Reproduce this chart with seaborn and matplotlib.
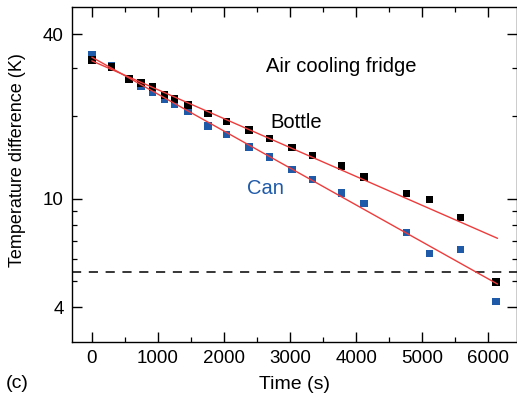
import numpy as np
import pandas as pd
import matplotlib
matplotlib.use("Agg")
import matplotlib.pyplot as plt
from matplotlib.ticker import FixedLocator, FixedFormatter, NullFormatter
import seaborn as sns

# Measured cooling curves (temperature difference vs. time)
time_s = [0, 300, 560, 740, 920, 1100, 1250, 1460, 1760, 2040,
          2380, 2690, 3030, 3340, 3780, 4120, 4760, 5110, 5580, 6120]
bottle_dT = [32.2, 30.4, 27.4, 26.5, 25.6, 24.0, 23.2, 22.0, 20.5, 19.2,
             17.8, 16.6, 15.4, 14.4, 13.2, 12.0, 10.45, 9.93, 8.53, 4.94]
can_dT = [33.6, 30.6, 27.3, 25.9, 24.5, 23.1, 22.15, 20.9, 18.45, 17.2,
          15.45, 14.2, 12.8, 11.75, 10.5, 9.6, 7.5, 6.3, 6.5, 4.2]

# Exponential fits (straight lines on the log axis), given by their end points
fit_time = [0, 6140]
bottle_fit = [32.0, 7.15]
can_fit = [33.0, 4.86]

threshold_dT = 5.4

y_major = [4, 10, 40]
y_major_labels = ["4", "10", "40"]
y_minor = [5, 6, 7, 8, 9, 20, 30]
x_major = [0, 1000, 2000, 3000, 4000, 5000, 6000]
x_minor = [500, 1500, 2500, 3500, 4500, 5500]

BLACK = "#000000"
BLUE = "#1f5aa8"
RED = "#ee3b3b"

sns.set_style("ticks")
plt.rcParams["font.family"] = ["Liberation Sans", "DejaVu Sans"]
plt.rcParams.update({
    "text.color": "black",
    "axes.labelcolor": "black",
    "xtick.color": "black",
    "ytick.color": "black",
    "axes.edgecolor": "black",
})

points = pd.concat([
    pd.DataFrame({"t": time_s, "dT": can_dT, "sample": "Can"}),
    pd.DataFrame({"t": time_s, "dT": bottle_dT, "sample": "Bottle"}),
], ignore_index=True)
fits = pd.concat([
    pd.DataFrame({"t": fit_time, "dT": can_fit, "sample": "Can"}),
    pd.DataFrame({"t": fit_time, "dT": bottle_fit, "sample": "Bottle"}),
], ignore_index=True)

fig = plt.figure(figsize=(5.17, 4.01), dpi=100)
ax = fig.add_axes([72 / 517, 59 / 401, 444.5 / 517, 335 / 401])

sns.scatterplot(data=points, x="t", y="dT", hue="sample",
                palette={"Can": BLUE, "Bottle": BLACK}, marker="s",
                s=30, linewidth=0, legend=False, ax=ax, zorder=2)
sns.lineplot(data=fits, x="t", y="dT", hue="sample",
             palette={"Can": RED, "Bottle": RED}, linewidth=1.0,
             legend=False, ax=ax, zorder=3)
ax.axhline(threshold_dT, color="black", linewidth=1.1, dashes=(6, 5), zorder=1)

ax.set_yscale("log")
ax.set_xlim(-300, 6427)
ax.set_ylim(2.98, 50.4)

ax.yaxis.set_major_locator(FixedLocator(y_major))
ax.yaxis.set_major_formatter(FixedFormatter(y_major_labels))
ax.yaxis.set_minor_locator(FixedLocator(y_minor))
ax.yaxis.set_minor_formatter(NullFormatter())
ax.xaxis.set_major_locator(FixedLocator(x_major))
ax.xaxis.set_minor_locator(FixedLocator(x_minor))

for side in ["top", "right", "bottom", "left"]:
    ax.spines[side].set_visible(True)
    ax.spines[side].set_linewidth(1.0)
    ax.spines[side].set_color("black")

ax.tick_params(which="both", direction="in", top=True, right=True,
               labelsize=13.5, colors="black", pad=6)
ax.tick_params(which="major", length=7.2, width=1.0)
ax.tick_params(which="minor", length=3.6, width=0.9)

ax.set_xlabel("Time (s)", fontsize=14, labelpad=6)
ax.set_ylabel("Temperature difference (K)", fontsize=13)
ax.yaxis.set_label_coords(-0.104, 0.543)

ax.text(2637, 30.6, "Air cooling fridge", fontsize=14.5, ha="left", va="center")
ax.text(2708, 18.97, "Bottle", fontsize=14.5, ha="left", va="center")
ax.text(2345, 10.93, "Can", fontsize=14.5, ha="left", va="center", color=BLUE)
fig.text(6 / 517, 1 - 384 / 401, "(c)", fontsize=14, ha="left", va="center")

fig.savefig("out.png", dpi=100)
